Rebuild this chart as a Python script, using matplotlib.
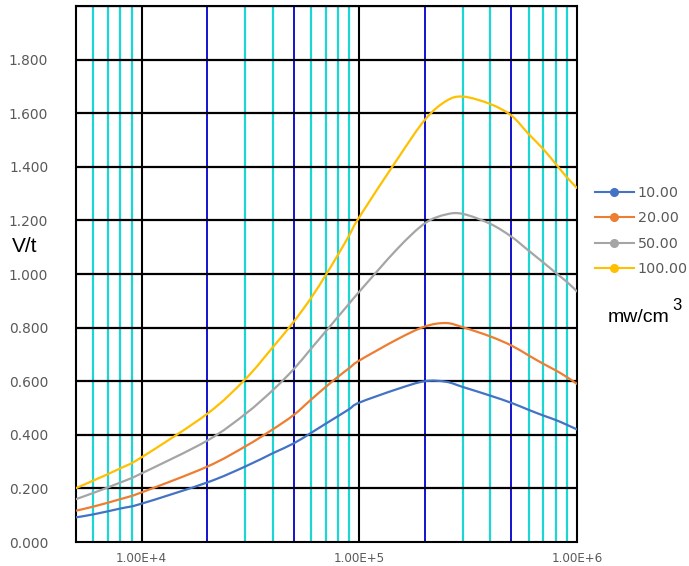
import matplotlib
matplotlib.use("Agg")
import matplotlib.pyplot as plt
import numpy as np
from matplotlib.lines import Line2D
from matplotlib.path import Path
from matplotlib.patches import PathPatch

# Frequency (x) values
freq = [5000, 6000, 8000, 1e4, 2e4, 3e4, 4e4, 5e4, 6e4, 7e4, 8e4, 9e4, 1e5,
        1.5e5, 2e5, 2.5e5, 3e5, 4e5, 5e5, 6e5, 7e5, 8e5, 9e5, 1e6]

s10 = [0.092, 0.103, 0.125, 0.143, 0.222, 0.282, 0.331, 0.368, 0.407, 0.441, 0.470, 0.496, 0.520,
       0.571, 0.600, 0.598, 0.578, 0.546, 0.519, 0.493, 0.472, 0.455, 0.437, 0.420]
s20 = [0.117, 0.132, 0.160, 0.185, 0.281, 0.357, 0.420, 0.474, 0.531, 0.578, 0.617, 0.649, 0.677,
       0.757, 0.804, 0.817, 0.801, 0.767, 0.733, 0.696, 0.665, 0.640, 0.615, 0.590]
s50 = [0.160, 0.183, 0.222, 0.256, 0.378, 0.478, 0.566, 0.645, 0.721, 0.785, 0.841, 0.890, 0.934,
       1.095, 1.189, 1.222, 1.224, 1.187, 1.139, 1.087, 1.043, 1.004, 0.970, 0.935]
s100 = [0.201, 0.229, 0.275, 0.316, 0.478, 0.608, 0.726, 0.822, 0.910, 0.995, 1.073, 1.145, 1.212,
        1.430, 1.575, 1.645, 1.662, 1.634, 1.591, 1.522, 1.466, 1.410, 1.360, 1.321]

series_labels = ["10.00", "20.00", "50.00", "100.00"]
series_colors = ["#4472C4", "#ED7D31", "#A5A5A5", "#FFC000"]
y_ticks = [0.0, 0.2, 0.4, 0.6, 0.8, 1.0, 1.2, 1.4, 1.6, 1.8]
x_ticks = [1e4, 1e5, 1e6]
x_tick_labels = ["1.00E+4", "1.00E+5", "1.00E+6"]


def smooth_path(xs, ys):
    """Excel-like smoothed line: Catmull-Rom -> cubic Bezier in (log x, y) space."""
    lx = np.log10(np.asarray(xs, float))
    y = np.asarray(ys, float)
    n = len(lx)
    verts = [(xs[0], y[0])]
    codes = [Path.MOVETO]
    for i in range(n - 1):
        p0 = (lx[max(i - 1, 0)], y[max(i - 1, 0)])
        p1 = (lx[i], y[i])
        p2 = (lx[i + 1], y[i + 1])
        p3 = (lx[min(i + 2, n - 1)], y[min(i + 2, n - 1)])
        c1 = (p1[0] + (p2[0] - p0[0]) / 6, p1[1] + (p2[1] - p0[1]) / 6)
        c2 = (p2[0] - (p3[0] - p1[0]) / 6, p2[1] - (p3[1] - p1[1]) / 6)
        verts += [(10 ** c1[0], c1[1]), (10 ** c2[0], c2[1]), (10 ** p2[0], p2[1])]
        codes += [Path.CURVE4] * 3
    return Path(verts, codes)


W, H = 689, 566
fig = plt.figure(figsize=(W / 100, H / 100), dpi=100)
ax = fig.add_axes([76 / W, 1 - 542 / H, (577 - 76) / W, (542 - 6) / H])
ax.set_xscale("log")
ax.set_xlim(5000, 1e6)
ax.set_ylim(0, 2.0)

# vertical grid lines
for dec in [1e3, 1e4, 1e5]:
    for m in range(1, 10):
        x = dec * m
        if x <= 5000 or x > 1e6:
            continue
        if m == 1:
            c, lw = "black", 1.5
        elif m in (2, 5):
            c, lw = "#0000CC", 1.3
        else:
            c, lw = "#1CD6D6", 1.6
        ax.axvline(x, color=c, lw=lw, zorder=1)
for y in y_ticks[1:] + [2.0]:
    ax.axhline(y, color="black", lw=1.6, zorder=1)

for vals, lab, col in zip([s10, s20, s50, s100], series_labels, series_colors):
    patch = PathPatch(smooth_path(freq, vals), facecolor="none", edgecolor=col,
                      lw=1.6, zorder=3, capstyle="round", joinstyle="round")
    ax.add_patch(patch)

ax.set_yticks(y_ticks)
ax.set_yticklabels([f"{v:.3f}" for v in y_ticks], color="#595959", fontsize=9.9)
ax.set_xticks(x_ticks)
ax.set_xticklabels(x_tick_labels, color="#595959", fontsize=8.6)
ax.xaxis.set_minor_locator(matplotlib.ticker.NullLocator())
ax.tick_params(axis="y", length=0, pad=20)
ax.tick_params(axis="x", length=0, pad=7)
for sp in ax.spines.values():
    sp.set_color("black")
    sp.set_linewidth(1.5)

fig.text(12 / W, 1 - 247 / H, "V/t", fontsize=15, color="black", va="center", ha="left",
         family="Liberation Sans")

handles = [Line2D([0], [0], color=c, lw=1.5, marker="o", markersize=5.5) for c in series_colors]
fig.legend(handles, series_labels, loc="upper left", bbox_to_anchor=(595 / W, 1 - 186 / H),
           frameon=False, fontsize=10.3, labelcolor="#595959", handlelength=2.7,
           handletextpad=0.3, labelspacing=0.8, borderaxespad=0, borderpad=0)

fig.text(608 / W, 1 - 322 / H, "mw/cm", fontsize=14, color="black",
         va="baseline", ha="left", family="Liberation Sans")
fig.text(672 / W, 1 - 310 / H, "3", fontsize=12, color="black",
         va="baseline", ha="left", family="Liberation Sans")

fig.savefig("out.png", dpi=100)
